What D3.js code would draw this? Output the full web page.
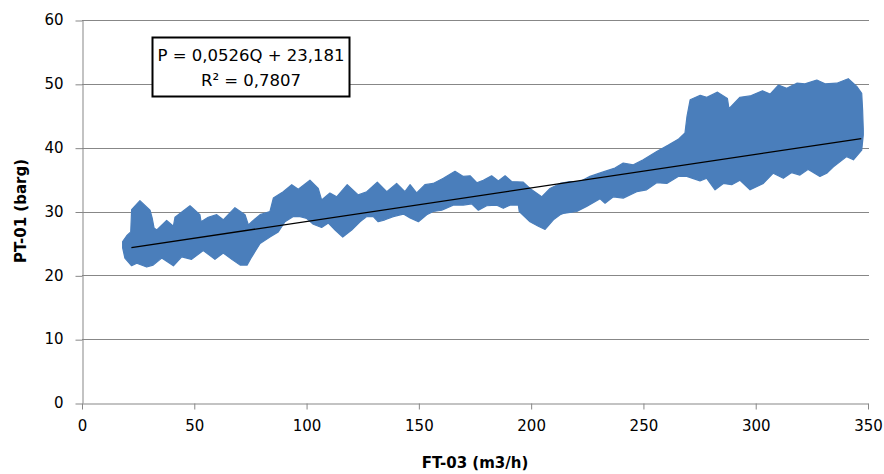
<!DOCTYPE html>
<html>
<head>
<meta charset="utf-8">
<script src="https://cdn.jsdelivr.net/npm/d3@7"></script>
<style>
  body { margin: 0; background: #fff; }
  svg { display: block; }
</style>
</head>
<body>
<script>
// x ticks / y ticks
var xTicks = [0, 50, 100, 150, 200, 250, 300, 350];
var yTicks = [0, 10, 20, 30, 40, 50, 60];

// upper edge of the point cloud (FT-03, PT-01)
var upperQ = [18.1, 19.9, 21.7, 22.1, 25.8, 30.3, 31.3, 32.1, 33.3, 37.7, 40.7, 41.4, 48.1, 52.5, 53.0, 56.2, 60.0, 62.9, 68.1, 72.6,
  74.1, 75.6, 79.3, 83.7, 85.2, 89.6, 93.4, 96.3, 101.5, 105.2, 106.7, 110.4, 113.4, 118.1, 123.0, 126.8, 131.5, 135.7, 140.1, 143.8,
  146.1, 149.0, 152.7, 156.4, 160.9, 166.1, 169.8, 172.8, 175.8, 178.7, 182.4, 185.4, 188.4, 191.3, 196.5, 199.5, 204.7, 208.4, 212.9, 217.3,
  221.8, 226.2, 232.1, 237.3, 241.0, 245.5, 249.9, 255.9, 261.1, 265.5, 268.5, 269.4, 270.8, 275.3, 278.2, 283.0, 287.4, 288.1, 293.0, 297.5,
  303.0, 306.4, 310.1, 313.8, 318.3, 321.9, 327.2, 330.9, 336.1, 341.2, 345.0, 347.2, 347.6, 347.9];
var upperP = [25.3, 26.2, 26.8, 30.3, 31.7, 30.2, 28.9, 27.4, 27.1, 28.6, 27.7, 29.1, 30.9, 29.5, 28.4, 29.1, 29.5, 28.7, 30.6, 29.5,
  27.9, 28.4, 29.5, 30.0, 32.1, 33.1, 34.2, 33.5, 34.9, 33.6, 31.8, 32.9, 32.3, 34.2, 32.6, 33.1, 34.6, 33.1, 34.4, 33.1,
  34.2, 32.9, 34.2, 34.4, 35.2, 36.3, 35.5, 35.6, 34.5, 34.9, 35.6, 34.8, 35.6, 34.7, 34.6, 33.6, 32.3, 33.6, 34.4, 34.7,
  34.7, 35.5, 36.2, 36.8, 37.6, 37.3, 38.1, 39.4, 40.4, 41.3, 42.3, 44.9, 47.5, 48.2, 47.9, 48.7, 47.7, 46.1, 47.9, 48.1,
  48.9, 48.4, 49.8, 49.3, 50.1, 50.0, 50.6, 50.0, 50.1, 50.8, 49.6, 48.5, 45.9, 42.8];

// lower edge of the point cloud
var lowerQ = [18.1, 19.1, 22.1, 24.4, 28.8, 31.7, 35.5, 40.7, 44.4, 48.8, 54.0, 59.2, 62.9, 66.7, 70.4, 73.5, 75.6, 79.3, 83.7, 87.4,
  90.4, 94.1, 97.1, 100.1, 103.0, 106.7, 109.7, 112.7, 116.1, 120.1, 123.8, 126.8, 129.7, 131.9, 134.9, 138.6, 143.1, 146.1, 149.8, 153.5,
  156.4, 160.2, 165.3, 169.8, 173.5, 176.5, 180.2, 184.7, 187.6, 190.6, 194.3, 194.7, 199.5, 203.2, 206.2, 209.9, 212.9, 214.3, 220.3, 224.7,
  230.7, 232.9, 236.6, 241.0, 247.0, 251.4, 255.9, 260.4, 265.5, 269.3, 275.2, 278.2, 281.9, 285.6, 289.3, 293.0, 297.5, 303.4, 307.8, 312.3,
  316.0, 319.7, 323.4, 328.6, 331.6, 334.6, 340.5, 343.5, 347.2, 347.9];
var lowerP = [24.3, 22.7, 21.5, 21.9, 21.3, 21.6, 22.7, 21.5, 22.9, 22.5, 23.9, 22.5, 23.5, 22.5, 21.6, 21.6, 22.9, 25.0, 26.0, 26.8,
  28.4, 29.2, 29.2, 28.9, 28.0, 27.5, 28.2, 27.1, 26.0, 27.1, 28.4, 29.2, 29.2, 28.4, 28.7, 29.2, 29.6, 29.0, 28.4, 29.5,
  30.0, 30.2, 31.0, 31.0, 31.2, 30.2, 30.9, 31.0, 30.5, 31.0, 31.0, 30.0, 28.4, 27.7, 27.2, 28.7, 29.5, 29.7, 30.0, 30.8,
  32.0, 31.3, 32.3, 32.1, 33.1, 33.4, 34.5, 34.4, 35.5, 35.5, 34.8, 35.2, 33.4, 34.4, 34.2, 34.9, 33.4, 34.4, 36.0, 35.2,
  36.1, 35.7, 36.6, 35.5, 36.0, 37.0, 38.6, 38.1, 39.6, 42.0];

// linear trendline shown in the chart
var trendSlope = 0.0526;
var trendIntercept = 23.181;
var trendRange = [22, 347];
var eqLines = ["P = 0,0526Q + 23,181", "R\u00b2 = 0,7807"];

var width = 884, height = 474;
var svg = d3.select("body").append("svg").attr("width", width).attr("height", height);

var x = d3.scaleLinear().domain([0, 350]).range([82, 868]);
var y = d3.scaleLinear().domain([0, 60]).range([403, 20]);
var font = "DejaVu Sans, sans-serif";

// gridlines
svg.append("g").selectAll("line")
  .data(yTicks.filter(function(d) { return d > 0; }))
  .enter().append("line")
    .attr("x1", x(0)).attr("x2", x(350) + 1)
    .attr("y1", function(d) { return Math.round(y(d)) + 0.5; })
    .attr("y2", function(d) { return Math.round(y(d)) + 0.5; })
    .attr("stroke", "#878787").attr("stroke-width", 1);

// axes
var xAxis = svg.append("g")
  .attr("transform", "translate(0," + (Math.round(y(0)) + 0.5) + ")")
  .call(d3.axisBottom(x).tickValues(xTicks).tickSize(6).tickPadding(11).tickSizeOuter(0));
var yAxis = svg.append("g")
  .attr("transform", "translate(" + (Math.round(x(0)) + 0.5) + ",0)")
  .call(d3.axisLeft(y).tickValues(yTicks).tickSize(7).tickPadding(12).tickSizeOuter(0));

[xAxis, yAxis].forEach(function(a) {
  a.select(".domain").attr("stroke", "#878787");
  a.selectAll(".tick line").attr("stroke", "#878787");
  a.selectAll(".tick text").attr("fill", "#000").style("font-family", font).style("font-size", "15px");
});
yAxis.selectAll(".tick line").attr("transform", "translate(0,0.5)");

// point cloud as a filled band
var pts = [];
upperQ.forEach(function(q, i) { pts.push([q, upperP[i]]); });
for (var i = lowerQ.length - 1; i >= 0; i--) pts.push([lowerQ[i], lowerP[i]]);

var line = d3.line()
  .x(function(d) { return x(d[0]); })
  .y(function(d) { return y(d[1]); });

svg.append("path")
  .attr("d", line(pts) + "Z")
  .attr("fill", "#4a7ebb")
  .attr("stroke", "#4a7ebb")
  .attr("stroke-width", 1.2)
  .attr("stroke-linejoin", "round");

// trendline
svg.append("path")
  .attr("d", line(trendRange.map(function(q) { return [q, trendSlope * q + trendIntercept]; })))
  .attr("stroke", "#000").attr("stroke-width", 1.3).attr("fill", "none");

// equation box
var box = svg.append("g");
box.append("rect")
  .attr("x", 152.5).attr("y", 37.5).attr("width", 197).attr("height", 59)
  .attr("fill", "#fff").attr("stroke", "#000").attr("stroke-width", 2);
box.selectAll("text")
  .data(eqLines)
  .enter().append("text")
    .attr("x", 251).attr("y", function(d, i) { return 61 + i * 25; })
    .attr("text-anchor", "middle")
    .style("font-family", font).style("font-size", "16.5px")
    .text(function(d) { return d; });

// axis titles
svg.append("text")
  .attr("x", 475).attr("y", 468)
  .attr("text-anchor", "middle")
  .style("font-family", font).style("font-size", "15px").style("font-weight", "bold")
  .text("FT-03 (m3/h)");

svg.append("text")
  .attr("transform", "translate(26,211) rotate(-90)")
  .attr("text-anchor", "middle")
  .style("font-family", font).style("font-size", "15px").style("font-weight", "bold")
  .text("PT-01 (barg)");
</script>
</body>
</html>
